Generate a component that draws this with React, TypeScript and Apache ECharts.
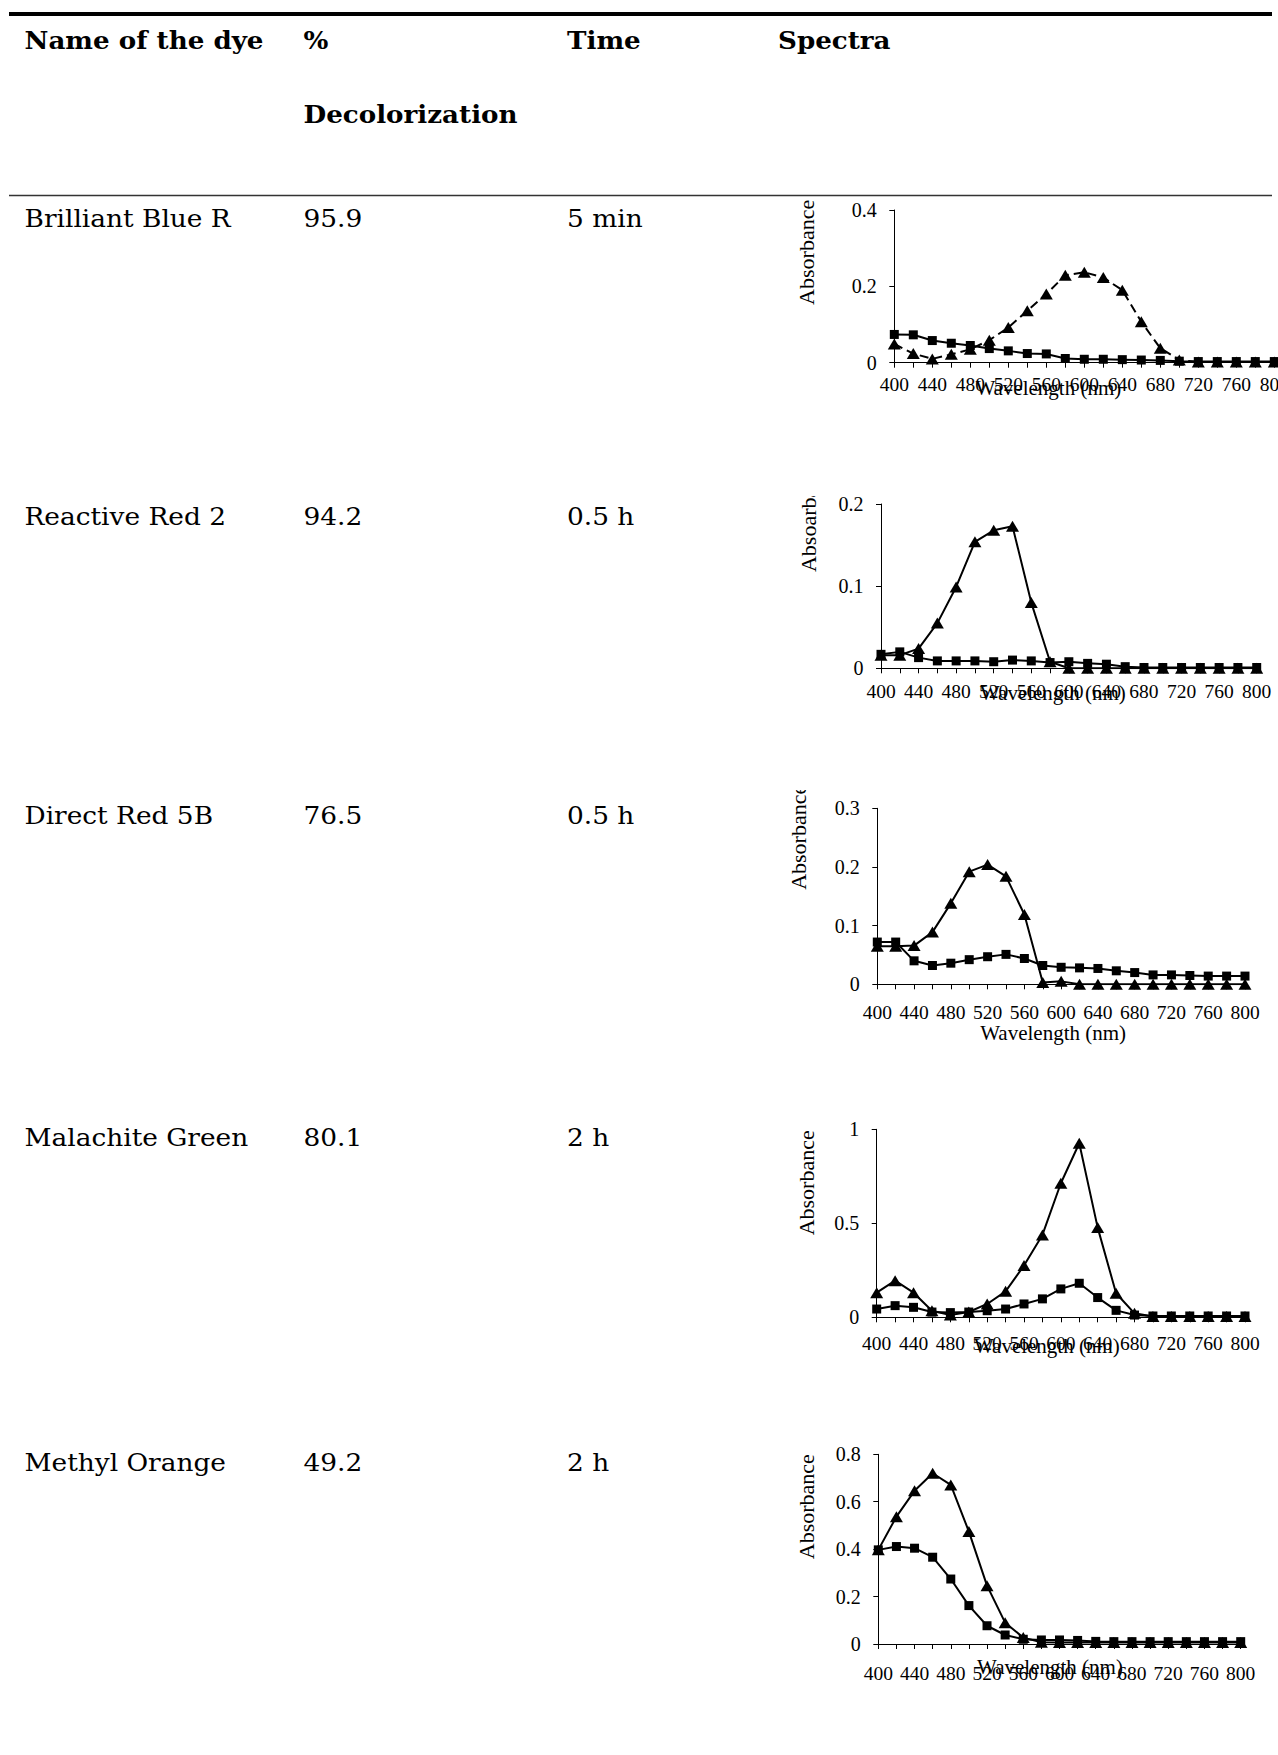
import React, { useEffect, useRef } from "react";
import * as echarts from "echarts";

// ---------------- data ----------------
const wavelengths = [
  "400", "420", "440", "460", "480", "500", "520", "540", "560", "580", "600",
  "620", "640", "660", "680", "700", "720", "740", "760", "780", "800",
];

const headerRow = ["Name of the dye", "%", "Time", "Spectra"];
const headerSecondLine = "Decolorization";
const dyeNames = ["Brilliant Blue R", "Reactive Red 2", "Direct Red 5B", "Malachite Green", "Methyl Orange"];
const decolorization = ["95.9", "94.2", "76.5", "80.1", "49.2"];
const times = ["5 min", "0.5 h", "0.5 h", "2 h", "2 h"];

// triangles (before) and squares (after)
const bbrBefore = [0.049, 0.024, 0.01, 0.022, 0.035, 0.059, 0.092, 0.136, 0.18, 0.229, 0.237, 0.223, 0.19, 0.107, 0.038, 0.007, 0.002, 0.002, 0.002, 0.002, 0.002];
const bbrAfter = [0.074, 0.073, 0.058, 0.051, 0.045, 0.037, 0.031, 0.024, 0.023, 0.011, 0.009, 0.009, 0.008, 0.007, 0.006, 0.004, 0.003, 0.003, 0.003, 0.003, 0.003];

const rr2Before = [0.016, 0.016, 0.024, 0.055, 0.099, 0.154, 0.168, 0.173, 0.08, 0.008, 0, 0, 0, 0, 0, 0, 0, 0, 0, 0, 0];
const rr2After = [0.017, 0.02, 0.013, 0.009, 0.009, 0.009, 0.008, 0.01, 0.009, 0.007, 0.008, 0.006, 0.005, 0.002, 0.001, 0.001, 0.001, 0.001, 0.001, 0.001, 0.001];

const dr5bBefore = [0.065, 0.065, 0.066, 0.089, 0.138, 0.192, 0.204, 0.184, 0.119, 0.003, 0.005, 0, 0, 0, 0, 0, 0, 0, 0, 0, 0];
const dr5bAfter = [0.072, 0.072, 0.04, 0.032, 0.036, 0.042, 0.047, 0.051, 0.044, 0.032, 0.029, 0.028, 0.027, 0.023, 0.02, 0.016, 0.016, 0.015, 0.014, 0.014, 0.014];

const mgBefore = [0.131, 0.195, 0.131, 0.035, 0.012, 0.028, 0.071, 0.138, 0.275, 0.438, 0.713, 0.926, 0.477, 0.128, 0.021, 0.004, 0.004, 0.004, 0.004, 0.004, 0.004];
const mgAfter = [0.044, 0.062, 0.053, 0.028, 0.025, 0.028, 0.035, 0.044, 0.071, 0.098, 0.151, 0.181, 0.105, 0.037, 0.012, 0.007, 0.007, 0.007, 0.007, 0.007, 0.007];

const moBefore = [0.397, 0.537, 0.646, 0.72, 0.671, 0.474, 0.246, 0.09, 0.027, 0.007, 0.006, 0.006, 0.006, 0.006, 0.006, 0.006, 0.006, 0.006, 0.006, 0.006, 0.006];
const moAfter = [0.397, 0.411, 0.404, 0.366, 0.274, 0.162, 0.077, 0.038, 0.02, 0.017, 0.017, 0.015, 0.011, 0.01, 0.01, 0.01, 0.01, 0.01, 0.01, 0.01, 0.01];

const beforeSeries = [bbrBefore, rr2Before, dr5bBefore, mgBefore, moBefore];
const afterSeries = [bbrAfter, rr2After, dr5bAfter, mgAfter, moAfter];
const yMax = [0.4, 0.2, 0.3, 1, 0.8];
const yInterval = [0.2, 0.1, 0.1, 0.5, 0.2];
const yAxisNames = ["Absorbance", "Absoarbance", "Absorbance", "Absorbance", "Absorbance"];
const xAxisName = "Wavelength (nm)";

// ---------------- layout ----------------
const PAGE_W = 1278;
const PAGE_H = 1755;
const CHART_LEFT = 780;
const CHART_W = 498;

const chartLayouts = [
  { top: 196, height: 220, gl: 114.3, gt: 14, gw: 380, gh: 152.7, xLabelMargin: 12, xNameGap: 15, xNamePad: 72, yNameGap: 76.6, yNamePad: 68, dashed: true },
  { top: 496, height: 230, gl: 101, gt: 8, gw: 375.7, gh: 164.3, xLabelMargin: 13, xNameGap: 14, xNamePad: 32, yNameGap: 62, yNamePad: 143, dashed: false },
  { top: 790, height: 270, gl: 97.3, gt: 18.3, gw: 367.7, gh: 176, xLabelMargin: 18, xNameGap: 38, xNamePad: 16, yNameGap: 68.3, yNamePad: 118, dashed: false },
  { top: 1100, height: 270, gl: 96.7, gt: 29.3, gw: 368.3, gh: 188, xLabelMargin: 16, xNameGap: 18, xNamePad: 28, yNameGap: 59, yNamePad: 81, dashed: false },
  { top: 1420, height: 280, gl: 98.3, gt: 34.3, gw: 362.4, gh: 189.7, xLabelMargin: 19, xNameGap: 12.5, xNamePad: 19, yNameGap: 60.6, yNamePad: 85, dashed: false },
];

const colX = [24.5, 303.5, 567, 778];
const headerY = 40.5;
const header2Y = 114;
const rowY = [218.5, 516.5, 816, 1137.5, 1462.5];

const TABLE_FONT = '"DejaVu Serif"';
const CHART_FONT = '"Liberation Serif"';

function tableOption(): any {
  const els: any[] = [];
  els.push({ type: "line", shape: { x1: 9, y1: 14, x2: 1272, y2: 14 }, style: { stroke: "#000", lineWidth: 4 } });
  els.push({ type: "line", shape: { x1: 9, y1: 195.5, x2: 1272, y2: 195.5 }, style: { stroke: "#333", lineWidth: 1.5 } });
  const txt = (text: string, x: number, y: number, bold: boolean) => ({
    type: "text",
    x,
    y,
    scaleX: bold ? 1.09 : 1.1,
    style: {
      text,
      fill: "#000",
      fontFamily: TABLE_FONT,
      fontSize: 24,
      fontWeight: bold ? "bold" : "normal",
      align: "left",
      verticalAlign: "middle",
    },
  });
  headerRow.forEach((h, i) => els.push(txt(h, colX[i], headerY, true)));
  els.push(txt(headerSecondLine, colX[1], header2Y, true));
  dyeNames.forEach((n, i) => {
    els.push(txt(n, colX[0], rowY[i], false));
    els.push(txt(decolorization[i], colX[1], rowY[i], false));
    els.push(txt(times[i], colX[2], rowY[i], false));
  });
  return { animation: false, graphic: { elements: els } };
}

function chartOption(i: number): any {
  const l = chartLayouts[i];
  return {
    animation: false,
    grid: { left: l.gl, top: l.gt, width: l.gw, height: l.gh, containLabel: false, outerBoundsMode: "none" },
    xAxis: {
      type: "category",
      data: wavelengths,
      boundaryGap: false,
      axisLine: { show: true, lineStyle: { color: "#000", width: 1 } },
      axisTick: { show: true, interval: 0, length: 5, lineStyle: { color: "#000", width: 1 } },
      axisLabel: { interval: 1, color: "#000", fontFamily: CHART_FONT, fontSize: 19.5, margin: l.xLabelMargin, hideOverlap: false },
      splitLine: { show: false },
      name: xAxisName,
      nameLocation: "middle",
      nameGap: l.xNameGap,
      nameMoveOverlap: false,
      nameTextStyle: { color: "#000", fontFamily: CHART_FONT, fontSize: 21, padding: [0, l.xNamePad, 0, 0] },
    },
    yAxis: {
      type: "value",
      min: 0,
      max: yMax[i],
      interval: yInterval[i],
      axisLine: { show: true, lineStyle: { color: "#000", width: 1 } },
      axisTick: { show: true, length: 5, lineStyle: { color: "#000", width: 1 } },
      axisLabel: { color: "#000", fontFamily: CHART_FONT, fontSize: 20, margin: 17.5 },
      splitLine: { show: false },
      name: yAxisNames[i],
      nameLocation: "middle",
      nameGap: l.yNameGap,
      nameMoveOverlap: false,
      nameTextStyle: { color: "#000", fontFamily: CHART_FONT, fontSize: 22, padding: [0, 0, 0, l.yNamePad] },
    },
    series: [
      {
        type: "line",
        data: beforeSeries[i],
        symbol: "triangle",
        symbolSize: [13, 11],
        showAllSymbol: true,
        lineStyle: { color: "#000", width: 2, type: l.dashed ? [9, 5] : "solid" },
        itemStyle: { color: "#000", borderWidth: 0 },
      },
      {
        type: "line",
        data: afterSeries[i],
        symbol: "rect",
        symbolSize: 9,
        showAllSymbol: true,
        lineStyle: { color: "#000", width: 2, type: "solid" },
        itemStyle: { color: "#000", borderWidth: 0 },
      },
    ],
  };
}

export default function App() {
  const tableRef = useRef<HTMLDivElement>(null);
  const chartRefs = useRef<(HTMLDivElement | null)[]>([]);

  useEffect(() => {
    const instances: echarts.ECharts[] = [];
    if (tableRef.current) {
      const t = echarts.init(tableRef.current, null, { renderer: "svg" });
      t.setOption(tableOption());
      instances.push(t);
    }
    chartLayouts.forEach((_, i) => {
      const el = chartRefs.current[i];
      if (!el) return;
      const c = echarts.init(el, null, { renderer: "svg" });
      c.setOption(chartOption(i));
      instances.push(c);
    });
    return () => instances.forEach((c) => c.dispose());
  }, []);

  return (
    <div style={{ position: "absolute", left: 0, top: 0, width: PAGE_W, height: PAGE_H, background: "#fff", overflow: "hidden" }}>
      <div ref={tableRef} style={{ position: "absolute", left: 0, top: 0, width: PAGE_W, height: PAGE_H }} />
      {chartLayouts.map((l, i) => (
        <div
          key={i}
          ref={(el) => {
            chartRefs.current[i] = el;
          }}
          style={{ position: "absolute", left: CHART_LEFT, top: l.top, width: CHART_W, height: l.height, overflow: "hidden" }}
        />
      ))}
    </div>
  );
}
